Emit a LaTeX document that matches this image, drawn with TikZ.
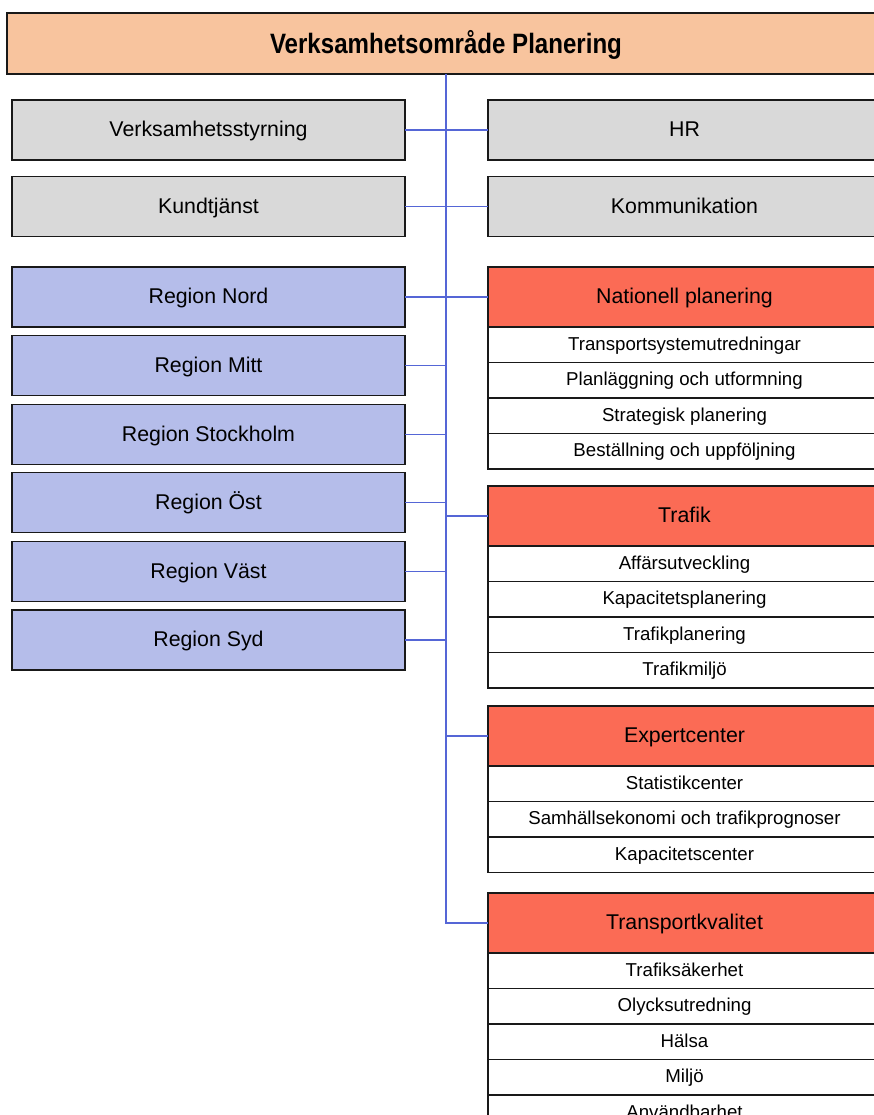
\documentclass[tikz,border=0pt]{standalone}
\usepackage{graphicx}
\usepackage{fontspec}
\setmainfont{Liberation Sans}
\usetikzlibrary{positioning}

\definecolor{headorange}{HTML}{F8C49E}
\definecolor{staffgray}{HTML}{D9D9D9}
\definecolor{regionblue}{HTML}{B5BDEA}
\definecolor{unitred}{HTML}{FB6B55}
\definecolor{linkblue}{HTML}{5566D6}

\begin{document}
\begin{tikzpicture}[x=0.75pt, y=-0.75pt,
  every node/.style={inner sep=0pt, outer sep=0pt, draw=black!90, line width=1.2pt},
  topbox/.style={fill=headorange, minimum width=658.5pt, minimum height=45.75pt,
    font=\fontsize{21}{24}\selectfont\bfseries, text height=18pt, text depth=3pt},
  staffbox/.style={fill=staffgray, minimum width=294.75pt, minimum height=45pt,
    font=\fontsize{16}{19}\selectfont, text height=14pt, text depth=3.6pt},
  regionbox/.style={staffbox, fill=regionblue},
  unitbox/.style={staffbox, fill=unitred},
  subbox/.style={fill=white, minimum width=294.75pt, minimum height=26.6pt,
    font=\fontsize{14}{16}\selectfont, text height=12pt, text depth=3.4pt,
    below=0pt of #1},
  link/.style={draw=linkblue, line width=1.1pt}]

  \useasboundingbox (0,0) rectangle (874,1115);
  \clip (0,0) rectangle (874,1115);

  % Top box
  \node[topbox] (top) at (446,43.5) {\scalebox{0.86}[1]{Verksamhetsområde Planering}};

  % Staff functions
  \node[staffbox] (styr) at (208.5,130) {Verksamhetsstyrning};
  \node[staffbox] (kund) at (208.5,206.5) {Kundtjänst};
  \node[staffbox] (hr) at (684.5,130) {HR};
  \node[staffbox] (komm) at (684.5,206.5) {Kommunikation};

  % Regions
  \node[regionbox] (nord) at (208.5,297) {Region Nord};
  \node[regionbox] (mitt) at (208.5,365.5) {Region Mitt};
  \node[regionbox] (sthlm) at (208.5,434.5) {Region Stockholm};
  \node[regionbox] (ost) at (208.5,502.5) {Region Öst};
  \node[regionbox] (vast) at (208.5,571.5) {Region Väst};
  \node[regionbox] (syd) at (208.5,640) {Region Syd};

  % Nationell planering
  \node[unitbox] (nat) at (684.5,297) {Nationell planering};
  \node[subbox=nat] (nat1) {Transportsystemutredningar};
  \node[subbox=nat1] (nat2) {Planläggning och utformning};
  \node[subbox=nat2] (nat3) {Strategisk planering};
  \node[subbox=nat3] (nat4) {Beställning och uppföljning};

  % Trafik
  \node[unitbox] (traf) at (684.5,516) {Trafik};
  \node[subbox=traf] (traf1) {Affärsutveckling};
  \node[subbox=traf1] (traf2) {Kapacitetsplanering};
  \node[subbox=traf2] (traf3) {Trafikplanering};
  \node[subbox=traf3] (traf4) {Trafikmiljö};

  % Expertcenter
  \node[unitbox] (exp) at (684.5,736) {Expertcenter};
  \node[subbox=exp] (exp1) {Statistikcenter};
  \node[subbox=exp1] (exp2) {Samhällsekonomi och trafikprognoser};
  \node[subbox=exp2] (exp3) {Kapacitetscenter};

  % Transportkvalitet
  \node[unitbox] (tk) at (684.5,923) {Transportkvalitet};
  \node[subbox=tk] (tk1) {Trafiksäkerhet};
  \node[subbox=tk1] (tk2) {Olycksutredning};
  \node[subbox=tk2] (tk3) {Hälsa};
  \node[subbox=tk3] (tk4) {Miljö};
  \node[subbox=tk4] (tk5) {Användbarhet};

  % Trunk line
  \draw[link] (top.south) |- (tk.west);

  % Branches
  \draw[link] (styr.east) -- (hr.west);
  \draw[link] (kund.east) -- (komm.west);
  \draw[link] (nord.east) -- (nat.west);
  \foreach \r in {mitt,sthlm,ost,vast,syd}
    \draw[link] (\r.east) -- (\r.east -| top.south);
  \foreach \u in {traf,exp}
    \draw[link] (\u.west) -- (\u.west -| top.south);

\end{tikzpicture}
\end{document}
